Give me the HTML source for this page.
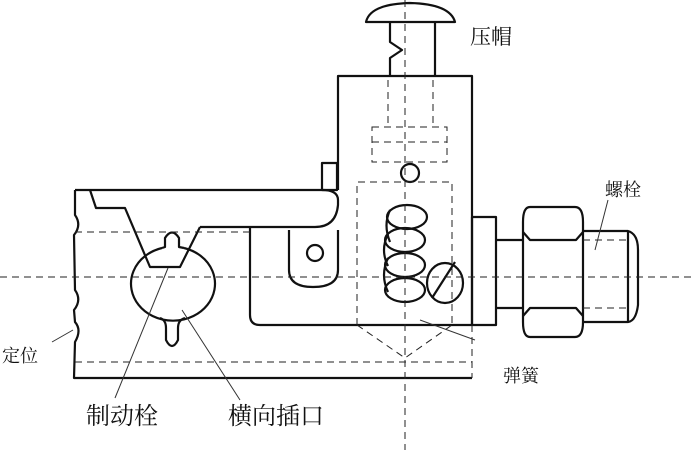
<!DOCTYPE html>
<html><head><meta charset="utf-8"><style>
html,body{margin:0;padding:0;background:#fff;width:694px;height:450px;overflow:hidden}
text{font-family:"Liberation Serif","Noto Serif CJK SC","Noto Sans CJK SC",serif;fill:#111}
</style></head><body>
<svg width="694" height="450" viewBox="0 0 694 450" xmlns="http://www.w3.org/2000/svg">
<g fill="none" stroke="#111" stroke-width="2.2" stroke-linejoin="round">
<path d="M366,22 Q370,4 410,3 Q450,4 455,22 Z"/>
<path d="M390,22 L390,42 L402,50 L390,58 L390,75"/>
<line x1="435" y1="22" x2="435" y2="75"/>
<path d="M338,190 L338,76 L472,76 L472,325"/>
<rect x="322" y="163" width="15" height="27"/>
<path d="M75,190 L322,190 Q338,190 338,200 L338,205 Q336,227 315,227 L200,227"/>
<path d="M90,190 L96,208 L125,208 L150,267 L180,267 L200,227"/>
<path d="M75,190 L75,215 Q82,225 74,235 L75,290 Q82,300 74,310 L75,322 Q82,330 75,342 L74,378 L472,378"/>
<path d="M162,248 A42,37 0 1 0 184,248"/>
<path d="M162,248 L165,247 L165,238 Q172,227 179,238 L179,247 L184,248"/>
<path d="M160,318 Q166,320 166,328 L166,340 Q172,352 178,340 L178,328 Q178,320 185,318"/>
<path d="M250,227 L250,315 Q250,325 260,325 L472,325"/>
<path d="M289,230 L289,270 Q289,287 313,287 Q338,287 338,270 L338,230"/>
<circle cx="315" cy="253" r="8"/>
<circle cx="410" cy="173" r="9"/>
<ellipse cx="407" cy="217" rx="20" ry="12"/>
<ellipse cx="405" cy="240" rx="20" ry="12"/>
<ellipse cx="405" cy="265" rx="20" ry="12"/>
<ellipse cx="405" cy="290" rx="20" ry="12"/>
<path d="M390,210 Q383,225 390,242 M388,234 Q380,250 388,266 M388,258 Q380,275 388,292"/>
<ellipse cx="445" cy="283" rx="18" ry="20"/>
<line x1="432" y1="298" x2="455" y2="262"/>
<rect x="472" y="217" width="24" height="108"/>
<line x1="496" y1="240" x2="523" y2="240"/>
<line x1="496" y1="308" x2="523" y2="308"/>
<path d="M530,207 L575,207 Q583,207 583,222 L583,322 Q583,337 575,337 L530,337 Q523,337 523,322 L523,222 Q523,207 530,207 Z"/>
<path d="M523,232 L530,240 L576,240 L583,232 M523,316 L530,308 L576,308 L583,316"/>
<path d="M583,231 L628,231 Q638,234 638,250 L638,305 Q636,321 628,322 L583,322"/>
<line x1="628" y1="231" x2="628" y2="322"/>
</g>
<g fill="none" stroke="#222" stroke-width="1" stroke-dasharray="7,5">
<line x1="0" y1="277" x2="694" y2="277"/>
<line x1="405" y1="0" x2="405" y2="450"/>
<line x1="75" y1="232" x2="250" y2="232"/>
<line x1="75" y1="362" x2="472" y2="362"/>
<line x1="472" y1="325" x2="472" y2="378"/>
<rect x="372" y="127" width="75" height="35"/>
<line x1="372" y1="142" x2="447" y2="142"/>
<path d="M357,325 L357,182 L452,182 L452,325"/>
<path d="M357,325 L405,358 L452,325"/>
<line x1="388" y1="80" x2="388" y2="127"/>
<line x1="433" y1="80" x2="433" y2="127"/>
<line x1="583" y1="240" x2="628" y2="240"/>
<line x1="583" y1="308" x2="628" y2="308"/>
</g>
<g stroke="#333" stroke-width="1" fill="none">
<line x1="52" y1="342" x2="73" y2="330"/>
<line x1="168" y1="268" x2="115" y2="398"/>
<line x1="182" y1="310" x2="240" y2="400"/>
<line x1="608" y1="200" x2="595" y2="250"/>
<line x1="420" y1="320" x2="475" y2="340"/>
</g>
<text x="470" y="44" font-size="21">压帽</text>
<text x="605" y="196" font-size="18">螺栓</text>
<text x="503" y="382" font-size="18">弹簧</text>
<text x="2" y="362" font-size="18">定位</text>
<text x="86" y="424" font-size="24">制动栓</text>
<text x="228" y="424" font-size="24">横向插口</text>
</svg>
</body></html>
